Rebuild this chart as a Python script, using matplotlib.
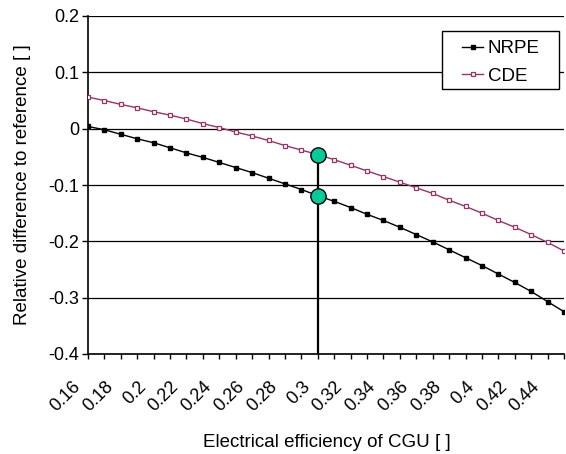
import matplotlib
matplotlib.use("Agg")
import matplotlib.pyplot as plt
import matplotlib.transforms as mtransforms
from matplotlib.patches import Rectangle
import numpy as np

plt.rcParams['font.family'] = ['Liberation Sans', 'DejaVu Sans']

efficiency = [0.16, 0.17, 0.18, 0.19, 0.20, 0.21, 0.22, 0.23, 0.24, 0.25,
              0.26, 0.27, 0.28, 0.29, 0.30, 0.31, 0.32, 0.33, 0.34, 0.35,
              0.36, 0.37, 0.38, 0.39, 0.40, 0.41, 0.42, 0.43, 0.44, 0.45]
nrpe = [0.004, -0.002, -0.010, -0.018, -0.025, -0.034, -0.043, -0.051, -0.060, -0.069,
        -0.078, -0.088, -0.098, -0.108, -0.119, -0.129, -0.140, -0.152, -0.163, -0.175,
        -0.188, -0.201, -0.215, -0.229, -0.243, -0.258, -0.273, -0.289, -0.307, -0.325]
cde = [0.056, 0.050, 0.043, 0.037, 0.030, 0.024, 0.017, 0.009, 0.002, -0.006,
       -0.013, -0.021, -0.030, -0.038, -0.046, -0.055, -0.065, -0.075, -0.085, -0.095,
       -0.105, -0.115, -0.127, -0.138, -0.150, -0.163, -0.175, -0.188, -0.202, -0.217]
highlight_x = 0.30
highlight_y = [-0.046, -0.119]
xtick_labels = ['0.16', '0.18', '0.2', '0.22', '0.24', '0.26', '0.28', '0.3',
                '0.32', '0.34', '0.36', '0.38', '0.4', '0.42', '0.44']
ytick_vals = [0.2, 0.1, 0.0, -0.1, -0.2, -0.3, -0.4]
ytick_labels = ['0.2', '0.1', '0', '-0.1', '-0.2', '-0.3', '-0.4']

W, H = 566, 454
fig = plt.figure(figsize=(W / 100, H / 100), dpi=100)
ax = fig.add_axes([88 / W, 1 - 354 / H, (564 - 88) / W, (354 - 16) / H])

idx = np.arange(len(efficiency))
hi = efficiency.index(highlight_x)

for v in ytick_vals:
    ax.axhline(v, color='black', lw=0.9, zorder=1)

ax.plot(idx, nrpe, color='black', lw=1.0, marker='s', ms=3.2, mfc='black', mec='black',
        label='NRPE', zorder=3)
ax.plot(idx, cde, color='#993366', lw=1.0, marker='s', ms=3.2, mfc='white', mec='#993366',
        mew=0.9, label='CDE', zorder=3)

ax.plot([hi, hi], [-0.4, highlight_y[0]], color='black', lw=1.6, zorder=4)
ax.plot([hi, hi], highlight_y, linestyle='none', marker='o', ms=11, mfc='#00CC99',
        mec='black', mew=1.0, zorder=5)

ax.set_xlim(0, len(efficiency) - 1)
ax.set_ylim(-0.4, 0.2)
ax.set_yticks(ytick_vals)
ax.set_yticklabels(ytick_labels, fontsize=13)
ax.set_xticks(idx)
labels = [xtick_labels[i // 2] if i % 2 == 0 else '' for i in idx]
ax.set_xticklabels(labels, rotation=45, ha='right', va='center', rotation_mode='anchor',
                   fontsize=13)
ax.tick_params(axis='x', direction='out', length=3.6, width=1, pad=17.8)
ax.tick_params(axis='y', direction='out', length=4.3, width=1, pad=2.2)
shift = mtransforms.ScaledTranslation(-0.104, 0, fig.dpi_scale_trans)
for lab in ax.get_xticklabels():
    lab.set_transform(lab.get_transform() + shift)

for s in ['top', 'right']:
    ax.spines[s].set_visible(False)
for s in ['left', 'bottom']:
    ax.spines[s].set_linewidth(1.2)

fig.text(327 / W, 1 - 447 / H, 'Electrical efficiency of CGU [ ]', fontsize=13.5,
         ha='center', va='baseline')
fig.text(23 / W, 1 - 185 / H, 'Relative difference to reference [ ]', fontsize=13.5,
         ha='center', va='center', rotation=90)

box = Rectangle((442 / W, 1 - 89 / H), (559 - 442) / W, (89 - 31) / H,
                transform=fig.transFigure, facecolor='white', edgecolor='black',
                lw=1.0, zorder=6)
fig.patches.append(box)
leg = fig.legend(loc='upper left', bbox_to_anchor=(462 / W, 1 - 40 / H),
                 bbox_transform=fig.transFigure, fontsize=13.5, frameon=False,
                 handlelength=1.12, handletextpad=0.25, borderpad=0, borderaxespad=0,
                 labelspacing=0.55)
leg.set_zorder(7)

fig.savefig('out.png', dpi=100)
